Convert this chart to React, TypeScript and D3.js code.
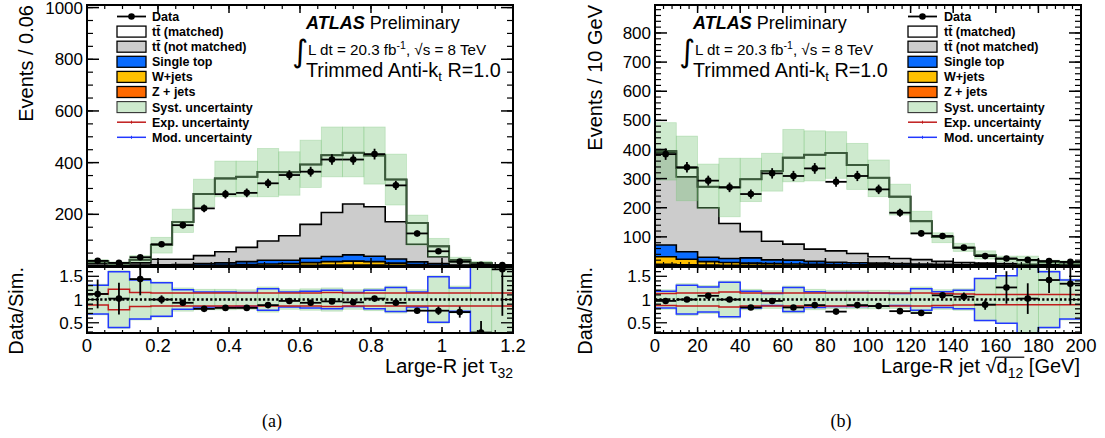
import React, { useLayoutEffect, useRef, useState } from "react";
import * as d3 from "d3";

// layout of the two ROOT-style canvases
const MAIN_TOP = 5;
const MAIN_BOTTOM = 266;
const RATIO_TOP = 267;
const RATIO_BOTTOM = 333;
const RATIO_DOMAIN = [0.28, 1.7];
const FONT = "'Liberation Sans', Arial, Helvetica, sans-serif";

const nBins = 20;
const tauEdges = d3.range(nBins + 1).map((i) => i * 0.06);
const d12Edges = d3.range(nBins + 1).map((i) => i * 10);

// ---- (a) large-R jet tau32 ----
const tauData = [20, 12, 34, 84, 158, 223, 278, 283, 320, 352, 365, 412, 412, 433, 312, 126, 57, 17, 5, 4];
const tauTotal = [18, 12, 24, 82, 170, 279, 339, 345, 364, 363, 393, 429, 438, 428, 335, 166, 76, 23, 12, 3];
const tauZjets = [0.3, 0.3, 0.4, 0.5, 0.6, 1, 1.2, 1.5, 2, 2, 3, 4, 4, 3.5, 2.5, 1.5, 0.8, 0.5, 0.2, 0.1];
const tauWjets = [0.7, 0.7, 0.6, 1.5, 1.4, 2, 2.8, 4.5, 6, 7, 10, 13, 15, 13.5, 8.5, 4.5, 2.2, 1.5, 0.8, 0.4];
const tauSingleTop = [2, 2, 3, 3, 4, 6, 8, 11, 14, 13, 17, 20, 24, 21, 16, 10, 6, 2, 1, 0.5];
const tauNotMatched = [7, 7, 8, 21, 20, 31, 43, 55, 75, 95, 131, 170, 197, 191, 144, 68, 27, 13, 6, 2];
const tauMatched = [8, 2, 12, 56, 144, 239, 284, 273, 267, 246, 232, 222, 198, 199, 164, 82, 40, 6, 4, 0];
const tauSystLo = [12, 6, 17, 50, 130, 229, 268, 268, 268, 274, 304, 345, 345, 317, 236, 81, 36, 12, 6, 0];
const tauSystHi = [24, 16, 40, 111, 220, 336, 406, 406, 455, 442, 487, 538, 538, 538, 433, 197, 107, 34, 18, 6];
const tauRatio = [1.12, 1.02, 1.44, 1.0, 0.93, 0.8, 0.82, 0.82, 0.88, 0.97, 0.93, 0.96, 0.94, 1.02, 0.93, 0.76, 0.76, 0.73, 0.29, 1.65];
const tauRatioErr = [0.31, 0.34, 0.35, 0.09, 0.05, 0.04, 0.03, 0.03, 0.03, 0.03, 0.03, 0.03, 0.03, 0.03, 0.04, 0.06, 0.09, 0.12, 0.25, 1.0];
const tauSystRel = [0.33, 0.62, 0.44, 0.38, 0.25, 0.22, 0.22, 0.21, 0.27, 0.21, 0.23, 0.25, 0.21, 0.24, 0.29, 0.21, 0.51, 0.29, 1.0, 1.0];
const tauExpRel = [0.12, 0.22, 0.15, 0.14, 0.14, 0.14, 0.14, 0.14, 0.14, 0.14, 0.14, 0.15, 0.14, 0.14, 0.14, 0.14, 0.14, 0.14, 0.14, 0.14];
const tauModRel = [0.31, 0.6, 0.42, 0.36, 0.21, 0.16, 0.16, 0.15, 0.23, 0.16, 0.18, 0.2, 0.15, 0.2, 0.26, 0.16, 0.49, 0.25, 1.0, 1.0];

// ---- (b) large-R jet sqrt(d12) ----
const d12Data = [384, 339, 293, 270, 247, 318, 309, 335, 289, 309, 263, 183, 112, 103, 63, 34, 26, 21, 17, 14];
const d12Total = [395, 337, 272, 270, 298, 326, 372, 382, 388, 347, 303, 238, 154, 100, 63, 38, 24, 20, 14, 12];
const d12Zjets = [6, 4, 3, 2.5, 2, 1.5, 1.5, 1, 1, 1, 0.8, 0.7, 0.6, 0.5, 0.4, 0.3, 0.3, 0.2, 0.2, 0.2];
const d12Wjets = [26, 19, 12, 9.5, 8, 6.5, 5.5, 5, 4, 3, 3.2, 2.3, 2.4, 1.5, 1.6, 1.7, 0.7, 0.8, 0.8, 0.8];
const d12SingleTop = [40, 26, 15, 14, 18, 13, 13, 10, 8, 7, 6, 5, 4, 4, 3, 2, 2, 2, 1, 1];
const d12NotMatched = [318, 257, 170, 120, 90, 64, 55, 42, 39, 32, 22, 18, 15, 10, 7, 6, 5, 3, 3, 2];
const d12Matched = [5, 31, 72, 124, 180, 241, 297, 324, 336, 304, 271, 212, 132, 84, 51, 28, 16, 14, 9, 8];
const d12SystLo = [295, 224, 198, 169, 221, 257, 289, 292, 301, 263, 238, 175, 110, 80, 50, 24, 14, 6, 8, 6];
const d12SystHi = [492, 446, 350, 370, 370, 387, 469, 464, 461, 421, 364, 281, 188, 114, 78, 52, 34, 34, 20, 18];
const d12Ratio = [0.97, 1.0, 1.08, 1.0, 0.83, 0.97, 0.83, 0.88, 0.74, 0.88, 0.86, 0.75, 0.71, 1.09, 1.06, 0.89, 1.26, 1.02, 1.42, 1.34];
const d12RatioErr = [0.03, 0.03, 0.03, 0.03, 0.03, 0.03, 0.03, 0.03, 0.03, 0.03, 0.03, 0.03, 0.04, 0.06, 0.09, 0.11, 0.35, 0.33, 0.28, 0.45];
const d12SystRel = [0.21, 0.34, 0.3, 0.4, 0.22, 0.19, 0.29, 0.22, 0.2, 0.2, 0.2, 0.19, 0.27, 0.21, 0.23, 0.46, 0.52, 1.0, 0.62, 0.44];
const d12ExpRel = [0.13, 0.14, 0.14, 0.16, 0.14, 0.14, 0.14, 0.14, 0.14, 0.14, 0.14, 0.14, 0.14, 0.13, 0.12, 0.11, 0.11, 0.11, 0.11, 0.11];
const d12ModRel = [0.18, 0.31, 0.27, 0.37, 0.18, 0.13, 0.26, 0.17, 0.15, 0.15, 0.14, 0.13, 0.23, 0.17, 0.2, 0.45, 0.51, 1.0, 0.6, 0.42];

// tick labels
const tauTickLabels = ["0", "0.2", "0.4", "0.6", "0.8", "1", "1.2"];
const d12TickLabels = ["0", "20", "40", "60", "80", "100", "120", "140", "160", "180", "200"];
const tauYLabels = ["200", "400", "600", "800", "1000"];
const d12YLabels = ["100", "200", "300", "400", "500", "600", "700", "800"];
const ratioLabels = ["0.5", "1", "1.5"];

const COLORS = {
  z: "#ff6a00",
  w: "#ffc000",
  st: "#0a6cff",
  nm: "#cccccc",
  m: "#ffffff",
  band: "rgb(115,195,115)",
  total: "#3b5a3b",
  exp: "#c01c1c",
  mod: "#2238ff",
};
const stackKeys = ["z", "w", "st", "nm", "m"];

const legendRows = [
  { label: "Data", kind: "data" },
  { label: "tt\u0304 (matched)", kind: "box", fill: COLORS.m },
  { label: "tt\u0304 (not matched)", kind: "box", fill: COLORS.nm },
  { label: "Single top", kind: "box", fill: COLORS.st },
  { label: "W+jets", kind: "box", fill: COLORS.w },
  { label: "Z + jets", kind: "box", fill: COLORS.z },
  { label: "Syst. uncertainty", kind: "band" },
  { label: "Exp. uncertainty", kind: "line", stroke: COLORS.exp },
  { label: "Mod. uncertainty", kind: "line", stroke: COLORS.mod },
];

function Legend({ x0, textX }: { x0: number; textX: number }) {
  const x1 = x0 + 29;
  return (
    <g fontFamily={FONT} fontWeight="bold" fontSize={12.5}>
      {legendRows.map((row, i) => {
        const cy = 16.5 + i * 15.1;
        let sym: any = null;
        if (row.kind === "data") {
          sym = (
            <g>
              <line x1={x0} x2={x1} y1={cy} y2={cy} stroke="#000" strokeWidth={1.8} />
              <circle cx={(x0 + x1) / 2} cy={cy} r={3.3} fill="#000" />
            </g>
          );
        } else if (row.kind === "box") {
          sym = <rect x={x0} y={cy - 5.5} width={29} height={11} fill={row.fill} stroke="#000" strokeWidth={1.3} />;
        } else if (row.kind === "band") {
          sym = (
            <rect x={x0} y={cy - 5.5} width={29} height={11} fill={COLORS.band} fillOpacity={0.35} stroke="#333" strokeWidth={1.1} />
          );
        } else {
          sym = (
            <g>
              <line x1={x0} x2={x1} y1={cy} y2={cy} stroke={row.stroke} strokeWidth={1.5} />
              <line x1={(x0 + x1) / 2} x2={(x0 + x1) / 2} y1={cy - 1.5} y2={cy + 1.5} stroke={row.stroke} strokeWidth={1} />
            </g>
          );
        }
        return (
          <g key={row.label}>
            {sym}
            <text x={textX} y={cy + 4.4}>
              {row.label}
            </text>
          </g>
        );
      })}
    </g>
  );
}

function AtlasLabel({ x }: { x: number }) {
  return (
    <g fontFamily={FONT} fill="#000">
      <text x={x} y={29} fontSize={18}>
        <tspan fontWeight="bold" fontStyle="italic">ATLAS</tspan> Preliminary
      </text>
      <text x={x - 14} y={62} fontSize={31} fontFamily="'DejaVu Sans', sans-serif">
        {"\u222B"}
      </text>
      <text x={x + 2} y={55} fontSize={15.2}>
        L dt = 20.3 fb<tspan dy={-6} fontSize={10.5}>-1</tspan>
        <tspan dy={6}>, {"\u221A"}s = 8 TeV</tspan>
      </text>
      <text x={x} y={77} fontSize={19.8}>
        Trimmed Anti-k<tspan dy={4} fontSize={13}>t</tspan>
        <tspan dy={-4}> R=1.0</tspan>
      </text>
    </g>
  );
}

// x title of (b): the square-root bar is drawn over "d12" once the text is laid out
function SqrtTitle({ x, y }: { x: number; y: number }) {
  const ref = useRef<SVGTextElement>(null);
  const [bar, setBar] = useState<{ x1: number; x2: number } | null>(null);
  useLayoutEffect(() => {
    const el = ref.current;
    if (!el) return;
    try {
      const x1 = el.getEndPositionOfChar(12).x;
      const x2 = el.getEndPositionOfChar(15).x;
      setBar({ x1: x1 - 1, x2: x2 + 1 });
    } catch (err) {
      // leave the title without the bar
    }
  }, []);
  return (
    <g>
      <text ref={ref} x={x} y={y} textAnchor="end" fontSize={20}>
        Large-R jet {"\u221A"}d
        <tspan dy={5} fontSize={14}>
          12
        </tspan>
        <tspan dy={-5}> [GeV]</tspan>
      </text>
      {bar && <line x1={bar.x1} x2={bar.x2} y1={y - 15.8} y2={y - 15.8} stroke="#000" strokeWidth={1.2} />}
    </g>
  );
}

type PanelProps = {
  id: string;
  x0: number;
  x1: number;
  edges: number[];
  yMax: number;
  xMajor: number[];
  xMinor: number[];
  xLabels: string[];
  yMajor: number[];
  yMinor: number[];
  yLabels: string[];
  data: number[];
  total: number[];
  layers: Record<string, number[]>;
  systLo: number[];
  systHi: number[];
  ratio: number[];
  ratioErr: number[];
  systRel: number[];
  expRel: number[];
  modRel: number[];
  yTitle: string;
  yTitleX: number;
  ratioTitleX: number;
  xTitle: React.ReactNode;
};

function Panel(p: PanelProps) {
  const x = d3.scaleLinear().domain([p.edges[0], p.edges[p.edges.length - 1]]).range([p.x0, p.x1]);
  const y = d3.scaleLinear().domain([0, p.yMax]).range([MAIN_BOTTOM, MAIN_TOP]);
  const r = d3.scaleLinear().domain(RATIO_DOMAIN).range([RATIO_BOTTOM, RATIO_TOP]);
  const e = p.edges;

  const rows = p.data.map((_, i) => {
    const o: Record<string, number> = {};
    stackKeys.forEach((k) => (o[k] = p.layers[k][i]));
    return o;
  });
  const series = d3.stack<Record<string, number>>().keys(stackKeys)(rows);

  const stepArea = d3
    .area<[number, number, number]>()
    .x((d) => x(d[0]))
    .y0((d) => y(d[1]))
    .y1((d) => y(d[2]));
  const stepLine = (sc: d3.ScaleLinear<number, number>) =>
    d3
      .line<[number, number]>()
      .x((d) => x(d[0]))
      .y((d) => sc(d[1]));
  const steps = (vals: number[]): [number, number][] =>
    vals.flatMap((v, i) => [
      [e[i], v],
      [e[i + 1], v],
    ] as [number, number][]);

  const mainLine = stepLine(y);
  const ratioLine = stepLine(r);
  const clipId = `ratio-clip-${p.id}`;
  const mainClip = `main-clip-${p.id}`;

  return (
    <g>
      <defs>
        <clipPath id={clipId}>
          <rect x={p.x0} y={RATIO_TOP} width={p.x1 - p.x0} height={RATIO_BOTTOM - RATIO_TOP} />
        </clipPath>
        <clipPath id={mainClip}>
          <rect x={p.x0} y={MAIN_TOP} width={p.x1 - p.x0} height={MAIN_BOTTOM - MAIN_TOP} />
        </clipPath>
      </defs>

      {/* stacked simulation */}
      <g clipPath={`url(#${mainClip})`}>
        {series.map((s) => {
          const pts = s.flatMap((d, i) => [
            [e[i], d[0], d[1]],
            [e[i + 1], d[0], d[1]],
          ] as [number, number, number][]);
          return <path key={s.key} d={stepArea(pts) || ""} fill={(COLORS as any)[s.key]} stroke="none" />;
        })}
        {series.map((s) => (
          <path
            key={"o" + s.key}
            d={mainLine(steps(s.map((d) => d[1]))) || ""}
            fill="none"
            stroke="#000"
            strokeWidth={1.6}
          />
        ))}
        {/* systematic band */}
        {p.systLo.map((lo, i) => (
          <rect
            key={"b" + i}
            x={x(e[i])}
            width={x(e[i + 1]) - x(e[i])}
            y={y(p.systHi[i])}
            height={y(lo) - y(p.systHi[i])}
            fill={COLORS.band}
            fillOpacity={0.35}
            stroke={COLORS.band}
            strokeOpacity={0.35}
            strokeWidth={0.8}
          />
        ))}
        <path d={mainLine(steps(p.total)) || ""} fill="none" stroke={COLORS.total} strokeWidth={2} />
      </g>

      {/* data */}
      <g stroke="#000" strokeWidth={1.8}>
        {p.data.map((v, i) => {
          const cx = x((e[i] + e[i + 1]) / 2);
          const err = Math.sqrt(v);
          return (
            <g key={"d" + i}>
              <line x1={x(e[i])} x2={x(e[i + 1])} y1={y(v)} y2={y(v)} />
              <line x1={cx} x2={cx} y1={y(v + err)} y2={y(Math.max(0, v - err))} />
              <circle cx={cx} cy={y(v)} r={3.3} fill="#000" stroke="none" />
            </g>
          );
        })}
      </g>

      {/* ratio panel */}
      <g clipPath={`url(#${clipId})`}>
        {p.systRel.map((s, i) => (
          <rect
            key={"rb" + i}
            x={x(e[i])}
            width={x(e[i + 1]) - x(e[i])}
            y={r(1 + s)}
            height={r(1 - s) - r(1 + s)}
            fill={COLORS.band}
            fillOpacity={0.35}
            stroke={COLORS.band}
            strokeOpacity={0.35}
            strokeWidth={0.8}
          />
        ))}
        <path d={ratioLine(steps(p.modRel.map((m) => 1 + m))) || ""} fill="none" stroke={COLORS.mod} strokeWidth={1.5} />
        <path d={ratioLine(steps(p.modRel.map((m) => 1 - m))) || ""} fill="none" stroke={COLORS.mod} strokeWidth={1.5} />
        <path d={ratioLine(steps(p.expRel.map((m) => 1 + m))) || ""} fill="none" stroke={COLORS.exp} strokeWidth={1.5} />
        <path d={ratioLine(steps(p.expRel.map((m) => 1 - m))) || ""} fill="none" stroke={COLORS.exp} strokeWidth={1.5} />
        <line x1={p.x0} x2={p.x1} y1={r(1)} y2={r(1)} stroke="#000" strokeWidth={2.4} strokeDasharray="2.2,2.2" />
        <g stroke="#000" strokeWidth={1.8}>
          {p.ratio.map((v, i) => {
            const cx = x((e[i] + e[i + 1]) / 2);
            return (
              <g key={"r" + i}>
                <line x1={x(e[i])} x2={x(e[i + 1])} y1={r(v)} y2={r(v)} />
                <line x1={cx} x2={cx} y1={r(v + p.ratioErr[i])} y2={r(v - p.ratioErr[i])} />
                <circle cx={cx} cy={r(v)} r={3.3} fill="#000" stroke="none" />
              </g>
            );
          })}
        </g>
      </g>

      {/* frames and ticks */}
      <g stroke="#000" fill="none">
        <rect x={p.x0} y={MAIN_TOP} width={p.x1 - p.x0} height={MAIN_BOTTOM - MAIN_TOP} strokeWidth={2} />
        <rect x={p.x0} y={RATIO_TOP} width={p.x1 - p.x0} height={RATIO_BOTTOM - RATIO_TOP} strokeWidth={2} />
        {p.yMajor.map((v) => (
          <g key={"ym" + v}>
            <line x1={p.x0} x2={p.x0 + 12} y1={y(v)} y2={y(v)} strokeWidth={1.5} />
            <line x1={p.x1 - 12} x2={p.x1} y1={y(v)} y2={y(v)} strokeWidth={1.5} />
          </g>
        ))}
        {p.yMinor.map((v) => (
          <g key={"yn" + v}>
            <line x1={p.x0} x2={p.x0 + 6} y1={y(v)} y2={y(v)} strokeWidth={1.2} />
            <line x1={p.x1 - 6} x2={p.x1} y1={y(v)} y2={y(v)} strokeWidth={1.2} />
          </g>
        ))}
        {p.xMajor.map((v) => (
          <g key={"xm" + v}>
            <line x1={x(v)} x2={x(v)} y1={MAIN_TOP} y2={MAIN_TOP + 8} strokeWidth={1.5} />
            <line x1={x(v)} x2={x(v)} y1={MAIN_BOTTOM - 8} y2={MAIN_BOTTOM} strokeWidth={1.5} />
            <line x1={x(v)} x2={x(v)} y1={RATIO_TOP} y2={RATIO_TOP + 6} strokeWidth={1.5} />
            <line x1={x(v)} x2={x(v)} y1={RATIO_BOTTOM - 6} y2={RATIO_BOTTOM} strokeWidth={1.5} />
          </g>
        ))}
        {p.xMinor.map((v) => (
          <g key={"xn" + v}>
            <line x1={x(v)} x2={x(v)} y1={MAIN_TOP} y2={MAIN_TOP + 4} strokeWidth={1.2} />
            <line x1={x(v)} x2={x(v)} y1={MAIN_BOTTOM - 4} y2={MAIN_BOTTOM} strokeWidth={1.2} />
            <line x1={x(v)} x2={x(v)} y1={RATIO_TOP} y2={RATIO_TOP + 3} strokeWidth={1.2} />
            <line x1={x(v)} x2={x(v)} y1={RATIO_BOTTOM - 3} y2={RATIO_BOTTOM} strokeWidth={1.2} />
          </g>
        ))}
        {d3.range(3, 18).map((k) => {
          const v = k / 10;
          const len = k % 5 === 0 ? 12 : 6;
          return (
            <g key={"rt" + k}>
              <line x1={p.x0} x2={p.x0 + len} y1={r(v)} y2={r(v)} strokeWidth={1.3} />
              <line x1={p.x1 - len} x2={p.x1} y1={r(v)} y2={r(v)} strokeWidth={1.3} />
            </g>
          );
        })}
      </g>

      {/* tick labels */}
      <g fontFamily={FONT} fill="#000">
        {p.yLabels.map((lab) => (
          <text key={"yl" + lab} x={p.x0 - 4} y={y(+lab)} dy="0.36em" textAnchor="end" fontSize={17}>
            {lab}
          </text>
        ))}
        {ratioLabels.map((lab) => (
          <text key={"rl" + lab} x={p.x0 - 4} y={r(+lab)} dy="0.36em" textAnchor="end" fontSize={17}>
            {lab}
          </text>
        ))}
        {p.xLabels.map((lab) => (
          <text key={"xl" + lab} x={x(+lab)} y={352} textAnchor="middle" fontSize={18.5}>
            {lab}
          </text>
        ))}
        <text transform={`translate(${p.yTitleX},5) rotate(-90)`} textAnchor="end" fontSize={20}>
          {p.yTitle}
        </text>
        <text transform={`translate(${p.ratioTitleX},267) rotate(-90)`} textAnchor="end" fontSize={20}>
          Data/Sim.
        </text>
        {p.xTitle}
      </g>
    </g>
  );
}

export default function App() {
  const tauLayers = { z: tauZjets, w: tauWjets, st: tauSingleTop, nm: tauNotMatched, m: tauMatched };
  const d12Layers = { z: d12Zjets, w: d12Wjets, st: d12SingleTop, nm: d12NotMatched, m: d12Matched };
  return (
    <svg
      width={1105}
      height={438}
      viewBox="0 0 1105 438"
      style={{ position: "absolute", left: 0, top: 0, background: "#fff" }}
    >
      <rect width={1105} height={438} fill="#fff" />
      <Panel
        id="a"
        x0={87}
        x1={513}
        edges={tauEdges}
        yMax={1010}
        xMajor={d3.range(0, 1.21, 0.2)}
        xMinor={d3.range(0, 1.21, 0.05)}
        xLabels={tauTickLabels}
        yMajor={d3.range(200, 1001, 200)}
        yMinor={d3.range(50, 1001, 50)}
        yLabels={tauYLabels}
        data={tauData}
        total={tauTotal}
        layers={tauLayers}
        systLo={tauSystLo}
        systHi={tauSystHi}
        ratio={tauRatio}
        ratioErr={tauRatioErr}
        systRel={tauSystRel}
        expRel={tauExpRel}
        modRel={tauModRel}
        yTitle="Events / 0.06"
        yTitleX={33}
        ratioTitleX={23}
        xTitle={
          <text x={513} y={373} textAnchor="end" fontSize={20}>
            Large-R jet {"\u03C4"}
            <tspan dy={5} fontSize={14}>
              32
            </tspan>
          </text>
        }
      />
      <Panel
        id="b"
        x0={655}
        x1={1081}
        edges={d12Edges}
        yMax={896}
        xMajor={d3.range(0, 201, 20)}
        xMinor={d3.range(0, 201, 4)}
        xLabels={d12TickLabels}
        yMajor={d3.range(100, 801, 100)}
        yMinor={d3.range(20, 881, 20)}
        yLabels={d12YLabels}
        data={d12Data}
        total={d12Total}
        layers={d12Layers}
        systLo={d12SystLo}
        systHi={d12SystHi}
        ratio={d12Ratio}
        ratioErr={d12RatioErr}
        systRel={d12SystRel}
        expRel={d12ExpRel}
        modRel={d12ModRel}
        yTitle="Events / 10 GeV"
        yTitleX={602}
        ratioTitleX={592}
        xTitle={<SqrtTitle x={1080} y={373} />}
      />
      <Legend x0={117} textX={152} />
      <Legend x0={908} textX={944} />
      <AtlasLabel x={306} />
      <AtlasLabel x={693} />
      <g fontFamily="'Liberation Serif', 'Times New Roman', serif" fontSize={18} textAnchor="middle">
        <text x={272} y={427}>(a)</text>
        <text x={841} y={427}>(b)</text>
      </g>
    </svg>
  );
}
